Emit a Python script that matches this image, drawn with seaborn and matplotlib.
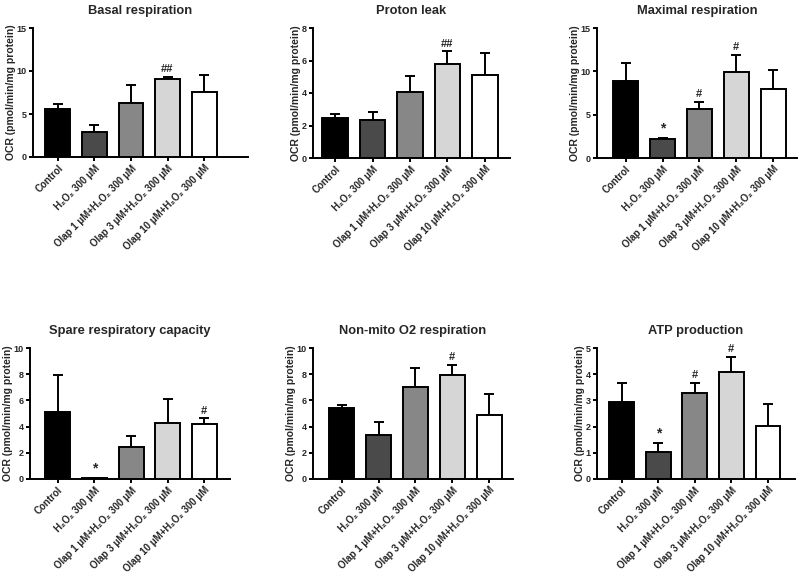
import numpy as np
import pandas as pd
import matplotlib
matplotlib.use("Agg")
import matplotlib.pyplot as plt
import seaborn as sns

# groups (same for every panel)
groups = ["Control", "H₂O₂ 300 μM", "Olap 1 μM+H₂O₂ 300 μM",
          "Olap 3 μM+H₂O₂ 300 μM", "Olap 10 μM+H₂O₂ 300 μM"]
bar_colors = ["#000000", "#4a4a4a", "#878787", "#d6d6d6", "#ffffff"]

titles = ["Basal respiration", "Proton leak", "Maximal respiration",
          "Spare respiratory capacity", "Non-mito O2 respiration", "ATP production"]

# means and SEM (upper error only)
basal_mean = [5.6, 2.9, 6.25, 9.05, 7.55]
basal_err = [0.6, 0.85, 2.15, 0.25, 2.0]
leak_mean = [2.46, 2.34, 4.05, 5.8, 5.12]
leak_err = [0.27, 0.5, 1.02, 0.76, 1.35]
max_mean = [8.85, 2.15, 5.6, 9.95, 7.98]
max_err = [2.1, 0.18, 0.88, 1.95, 2.2]
spare_mean = [5.15, 0.06, 2.47, 4.3, 4.18]
spare_err = [2.8, 0.0, 0.85, 1.8, 0.44]
nonmito_mean = [5.43, 3.35, 7.04, 7.93, 4.85]
nonmito_err = [0.23, 1.0, 1.43, 0.77, 1.63]
atp_mean = [2.93, 1.04, 3.28, 4.1, 2.03]
atp_err = [0.73, 0.32, 0.39, 0.57, 0.83]

basal_sig = ["", "", "", "##", ""]
leak_sig = ["", "", "", "##", ""]
max_sig = ["", "*", "#", "#", ""]
spare_sig = ["", "*", "", "", "#"]
nonmito_sig = ["", "", "", "#", ""]
atp_sig = ["", "*", "#", "#", ""]

y_ticks = [[0, 5, 10, 15], [0, 2, 4, 6, 8], [0, 5, 10, 15],
           [0, 2, 4, 6, 8, 10], [0, 2, 4, 6, 8, 10], [0, 1, 2, 3, 4, 5]]

panels = [
    (basal_mean, basal_err, basal_sig),
    (leak_mean, leak_err, leak_sig),
    (max_mean, max_err, max_sig),
    (spare_mean, spare_err, spare_sig),
    (nonmito_mean, nonmito_err, nonmito_sig),
    (atp_mean, atp_err, atp_sig),
]

# axes boxes in pixels (left, right, top, bottom) and x limits
W, H = 800, 576
boxes = [(33, 248, 28, 157), (313, 510, 28, 158), (597, 797, 28, 158),
         (30, 230, 348, 479), (313, 513, 348, 479), (597, 795, 348, 479)]
xlims = [(-0.68, 5.2), (-0.59, 4.67), (-0.78, 4.65),
         (-0.76, 4.7), (-0.78, 4.65), (-0.68, 4.74)]

sns.set_theme(style="ticks")
plt.rcParams["font.family"] = ["Liberation Sans", "DejaVu Sans"]
plt.rcParams["font.weight"] = "bold"

fig = plt.figure(figsize=(8, 5.76), dpi=100)

for k, (mean, err, sig) in enumerate(panels):
    l, r, t, b = boxes[k]
    ax = fig.add_axes([l / W, 1 - b / H, (r - l) / W, (b - t) / H])
    df = pd.DataFrame({"group": groups, "value": mean})
    sns.barplot(data=df, x="group", y="value", hue="group", palette=bar_colors,
                edgecolor="black", linewidth=1.4, width=0.68, legend=False,
                errorbar=None, ax=ax, zorder=3)
    x = np.arange(len(groups))
    ax.errorbar(x, mean, yerr=[np.zeros(len(mean)), err], fmt="none",
                ecolor="black", elinewidth=1.4, capsize=3.5, capthick=1.4,
                zorder=2)
    top = y_ticks[k][-1]
    for i, s in enumerate(sig):
        if s:
            ax.text(i, mean[i] + err[i] + top * 0.02, s, ha="center", va="bottom",
                    fontsize=10 if s == "*" else 8, fontweight="bold")
    ax.set_ylim(0, top)
    ax.set_yticks(y_ticks[k])
    ax.set_xlim(*xlims[k])
    ax.set_xlabel("")
    ax.set_ylabel("OCR (pmol/min/mg protein)", fontsize=7.5, fontweight="bold",
                  labelpad=0.5)
    ax.set_title(titles[k], fontsize=9.3, fontweight="bold", pad=10)
    ax.set_xticks(x)
    ax.set_xticklabels(groups, rotation=45, ha="right", rotation_mode="anchor",
                       fontsize=7, fontweight="bold")
    for lab in ax.get_yticklabels():
        lab.set_fontsize(6.5)
        lab.set_fontweight("bold")
    for side in ["top", "right"]:
        ax.spines[side].set_visible(False)
    for side in ["left", "bottom"]:
        ax.spines[side].set_linewidth(1.4)
        ax.spines[side].set_color("black")
    ax.tick_params(axis="both", width=1.4, length=3.2, color="black", pad=1.2)

fig.savefig("out.png", dpi=100)
